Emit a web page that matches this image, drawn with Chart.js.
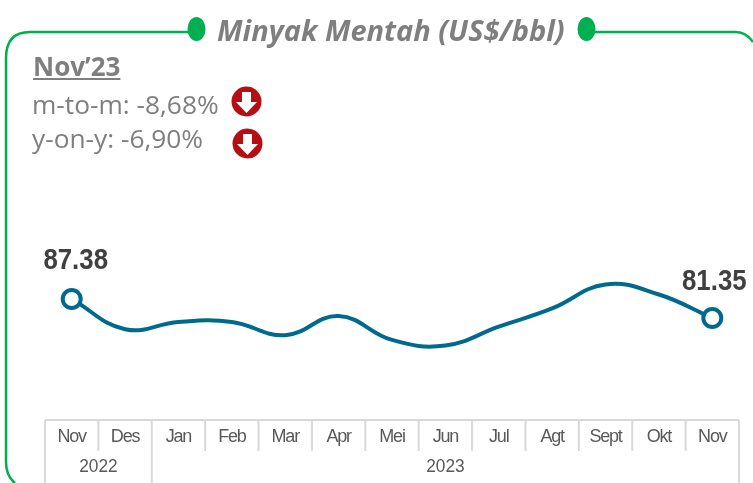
<!DOCTYPE html>
<html>
<head>
<meta charset="utf-8">
<title>Minyak Mentah</title>
<script src="https://cdn.jsdelivr.net/npm/chart.js@4"></script>
<style>
  html, body { margin: 0; padding: 0; background: #fff; }
  #wrap { position: relative; width: 753px; height: 483px; overflow: hidden; }
  svg { position: absolute; left: 0; top: 0; }
  .txt { position: absolute; font-family: "Open Sans", sans-serif; color: #7f7f7f; white-space: nowrap; }
  #title { left: 217px; top: 10px; font-size: 29px; font-weight: bold; font-style: italic; }
  #period { left: 33px; top: 48px; font-size: 26px; font-weight: bold; text-decoration: underline; }
  #mtm { left: 32px; top: 86px; font-size: 26.300px; }
  #yoy { left: 32px; top: 120px; font-size: 26.300px; }
</style>
</head>
<body>
<div id="wrap">
  <canvas id="oilChart" width="753" height="483"></canvas>
  <svg width="753" height="483">
    <path d="M197 32 H30 Q6 32 6 58 V462 Q6 476 15 483" fill="none" stroke="#00b050" stroke-width="2.5"/>
    <path d="M587 32 H735 Q746 32 753 42" fill="none" stroke="#00b050" stroke-width="2.5"/>
    <ellipse cx="196.500" cy="29" rx="9" ry="12" fill="#00b050"/>
    <ellipse cx="586.500" cy="29" rx="9" ry="12" fill="#00b050"/>
    <g fill="#b50f14">
      <circle cx="246.500" cy="101.500" r="15"/>
      <circle cx="247.500" cy="143.500" r="15"/>
    </g>
    <g fill="#fff">
      <path d="M242 92 H251 V102 H257 L246.500 113 L236 102 H242 Z"/>
      <path d="M243 134 H252 V144 H258 L247.500 155 L237 144 H243 Z"/>
    </g>
  </svg>
  <div class="txt" id="title">Minyak Mentah (US$/bbl)</div>
  <div class="txt" id="period">Nov’23</div>
  <div class="txt" id="mtm">m-to-m: -8,68%</div>
  <div class="txt" id="yoy">y-on-y: -6,90%</div>
</div>
<script>
// Data
const months = ["Nov", "Des", "Jan", "Feb", "Mar", "Apr", "Mei", "Jun", "Jul", "Agt", "Sept", "Okt", "Nov"];
const prices = [87.38, 77.8, 80.1, 80.1, 75.9, 82.0, 74.4, 72.6, 78.6, 84.4, 92.0, 88.8, 81.35];
const years = ["2022", "2023"];
const yearSpans = [2, 11];

const gridColor = "#d9d9d9";
const axisFont = '"Liberation Sans", sans-serif';

// no narrow font installed, so squeeze the text sideways
function narrowText(ctx, text, x, y, squeeze) {
  ctx.save();
  ctx.translate(x, y);
  ctx.scale(squeeze, 1);
  ctx.fillText(text, 0, 0);
  ctx.restore();
}

// Draws the two level table under the line and the two end labels
const tablePlugin = {
  id: "tablePlugin",
  beforeDraw(chart) {
    chart.ctx.letterSpacing = "-1.2px";
  },
  afterDraw(chart) {
    const ctx = chart.ctx;
    const x = chart.scales.x;
    const band = x.getPixelForValue(1) - x.getPixelForValue(0);
    const left = x.getPixelForValue(0) - band / 2;
    const top = chart.chartArea.bottom;

    ctx.save();
    ctx.letterSpacing = "0px";
    ctx.strokeStyle = gridColor;
    ctx.lineWidth = 2;
    ctx.beginPath();
    ctx.moveTo(left, top);
    ctx.lineTo(left + band * months.length, top);
    for (let i = 0; i <= months.length; i++) {
      ctx.moveTo(left + band * i, top);
      ctx.lineTo(left + band * i, top + 31);
    }
    let start = 0;
    ctx.moveTo(left, top);
    ctx.lineTo(left, 483);
    ctx.font = "18px " + axisFont;
    ctx.fillStyle = "#595959";
    ctx.textAlign = "center";
    ctx.textBaseline = "middle";
    years.forEach((year, i) => {
      const end = start + yearSpans[i];
      ctx.moveTo(left + band * end, top);
      ctx.lineTo(left + band * end, 483);
      narrowText(ctx, year, left + band * (start + end) / 2, top + 47, 0.96);
      start = end;
    });
    ctx.stroke();

    // End labels
    const meta = chart.getDatasetMeta(0).data;
    ctx.font = "bold 30px " + axisFont;
    ctx.fillStyle = "#404040";
    narrowText(ctx, prices[0].toFixed(2), meta[0].x + 4, meta[0].y - 38, 0.86);
    const last = prices.length - 1;
    narrowText(ctx, prices[last].toFixed(2), meta[last].x + 2, meta[last].y - 36, 0.86);
    ctx.restore();
  },
};

const ctx = document.getElementById("oilChart").getContext("2d");
const oilChart = new Chart(ctx, {
  type: "line",
  data: {
    labels: months,
    datasets: [
      {
        data: prices,
        borderColor: "#006a8e",
        borderWidth: 4,
        tension: 0.42,
        backgroundColor: "#ffffff",
        pointBackgroundColor: "#ffffff",
        pointBorderColor: "#006a8e",
        pointBorderWidth: 4,
        pointRadius: (c) => (c.dataIndex === 0 || c.dataIndex === prices.length - 1 ? 9 : 0),
      },
    ],
  },
  options: {
    responsive: false,
    animation: false,
    layout: { padding: { left: 45, right: 14, top: 170, bottom: 0 } },
    plugins: { legend: { display: false }, tooltip: { enabled: false } },
    scales: {
      x: {
        offset: true,
        grid: { display: false },
        border: { display: false },
        afterFit: (scale) => { scale.height = 63; },
        ticks: {
          color: "#595959",
          font: { family: axisFont, size: 18 },
          maxRotation: 0,
          autoSkip: false,
          padding: -2,
        },
      },
      y: { display: false, min: 49, max: 128.3 },
    },
  },
  plugins: [tablePlugin],
});
</script>
</body>
</html>
